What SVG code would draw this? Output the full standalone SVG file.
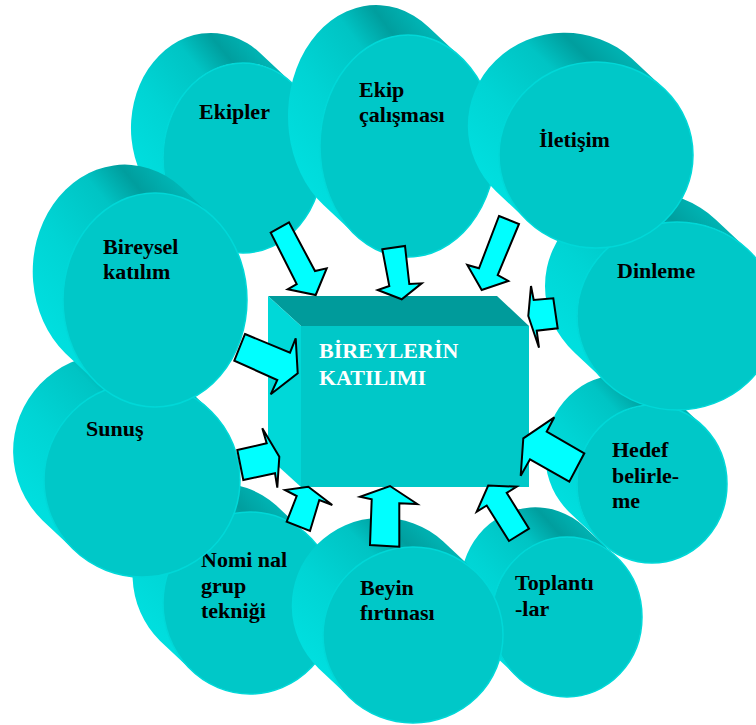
<svg xmlns="http://www.w3.org/2000/svg" width="756" height="725" viewBox="0 0 756 725">
<defs>
<linearGradient id="side" x1="0" y1="1" x2="1" y2="0">
<stop offset="0" stop-color="#00E6E6"/>
<stop offset="0.4" stop-color="#00D4D4"/>
<stop offset="0.62" stop-color="#00C4C4"/>
<stop offset="0.74" stop-color="#009E9E"/>
<stop offset="0.87" stop-color="#00B8B8"/>
<stop offset="1" stop-color="#00C6C6"/>
</linearGradient>
</defs>
<style>
.side{fill:url(#side);stroke:none}
.face{fill:#00C8C8;stroke:#00D8D8;stroke-width:1.5}
.lbl{font-family:"Liberation Serif","Times New Roman",serif;font-weight:bold;font-size:22px;fill:#000}
.ttl{font-family:"Liberation Serif","Times New Roman",serif;font-weight:bold;font-size:22px;fill:#FFFFFF}
.arr{fill:#00FFFF;stroke:#000;stroke-width:2;stroke-linejoin:miter}
</style>
<rect width="756" height="725" fill="#FFFFFF"/>

<g id="toplantilar">
<path class="side" d="M616.5,556.9 L584.5,526.9 A75,80 0 0 0 485.5,647.1 L517.5,677.1 A75,80 0 0 1 616.5,556.9 Z"/>
<ellipse class="face" cx="567" cy="617" rx="75" ry="80"/>
<text class="lbl" x="515" y="590">Toplantı</text>
<text class="lbl" x="515" y="616">-lar</text>
</g>

<g id="hedef">
<path class="side" d="M701.9,425 L669.9,395 A75,79 0 0 0 570.1,513 L602.1,543 A75,79 0 0 1 701.9,425 Z"/>
<ellipse class="face" cx="652" cy="484" rx="75" ry="79"/>
<text class="lbl" x="612" y="457">Hedef</text>
<text class="lbl" x="612" y="483">belirle-</text>
<text class="lbl" x="612" y="508">me</text>
</g>

<g id="dinleme">
<path class="side" d="M747.6,249.4 L715.6,219.4 A100,94 0 0 0 574.4,352.6 L606.4,382.6 A100,94 0 0 1 747.6,249.4 Z"/>
<ellipse class="face" cx="677" cy="316" rx="100" ry="94"/>
<text class="lbl" x="617" y="278">Dinleme</text>
</g>

<g id="nominal">
<path class="side" d="M308.1,535.3 L276.1,505.3 A87,91 0 0 0 159.9,640.7 L191.9,670.7 A87,91 0 0 1 308.1,535.3 Z"/>
<ellipse class="face" cx="250" cy="603" rx="87" ry="91"/>
<text class="lbl" x="201" y="567">Nomi nal</text>
<text class="lbl" x="201" y="593">grup</text>
<text class="lbl" x="201" y="618">tekniği</text>
</g>

<g id="beyin">
<path class="side" d="M475.3,571.5 L443.3,541.5 A90,88 0 0 0 318.7,668.5 L350.7,698.5 A90,88 0 0 1 475.3,571.5 Z"/>
<ellipse class="face" cx="413" cy="635" rx="90" ry="88"/>
<text class="lbl" x="360" y="595">Beyin</text>
<text class="lbl" x="360" y="620">fırtınası</text>
</g>

<g id="sunus">
<path class="side" d="M209.4,409.6 L177.4,379.6 A98,97 0 0 0 42.6,520.4 L74.6,550.4 A98,97 0 0 1 209.4,409.6 Z"/>
<ellipse class="face" cx="142" cy="480" rx="98" ry="97"/>
<text class="lbl" x="86" y="436">Sunuş</text>
</g>

<g id="ekipler">
<path class="side" d="M292.6,83.4 L260.6,53.4 A80,95 0 0 0 161.4,202.6 L193.4,232.6 A80,95 0 0 1 292.6,83.4 Z"/>
<ellipse class="face" cx="243" cy="158" rx="80" ry="95"/>
<text class="lbl" x="199" y="119">Ekipler</text>
</g>

<g id="bireysel">
<path class="side" d="M212.7,216.7 L180.7,186.7 A92,107 0 0 0 65.3,353.3 L97.3,383.3 A92,107 0 0 1 212.7,216.7 Z"/>
<ellipse class="face" cx="155" cy="300" rx="92" ry="107"/>
<text class="lbl" x="103" y="254">Bireysel</text>
<text class="lbl" x="103" y="279">katılım</text>
</g>

<g id="ekip-calismasi">
<path class="side" d="M460.5,56.9 L428.5,26.9 A88,111 0 0 0 323.5,205.1 L355.5,235.1 A88,111 0 0 1 460.5,56.9 Z"/>
<ellipse class="face" cx="408" cy="146" rx="88" ry="111"/>
<text class="lbl" x="359" y="97">Ekip</text>
<text class="lbl" x="359" y="122">çalışması</text>
</g>

<g id="iletisim">
<path class="side" d="M663.8,88.5 L631.8,58.5 A97,93 0 0 0 496.2,191.5 L528.2,221.5 A97,93 0 0 1 663.8,88.5 Z"/>
<ellipse class="face" cx="596" cy="155" rx="97" ry="93"/>
<text class="lbl" x="539" y="147">İletişim</text>
</g>

<g id="bireylerin-katilimi">
<polygon points="268,296 497,296 529,326 301,326" fill="#009B9B"/>
<polygon points="268,296 301,326 301,487 268,457" fill="#00D8D8"/>
<rect x="301" y="326" width="228" height="161" fill="#00C8C8"/>
<text class="ttl" x="319" y="358">BİREYLERİN</text>
<text class="ttl" x="319" y="385">KATILIMI</text>
</g>

<g id="connectors">
<polygon class="arr" points="270.7,232.7 289,222.3 315,271 326.7,268.3 315.7,295 287.7,289.3 296.7,284"/>
<polygon class="arr" points="382.3,249.3 405,246 409.3,284 421.7,283.3 401.7,299.3 377.7,290 389.3,286"/>
<polygon class="arr" points="499,216 519,224 497.7,275 508.3,281 481.7,290 467.3,265 479,268.3"/>
<polygon class="arr" points="531,286 533.7,300 553.3,298.3 557.7,328.3 536.7,330.7 539,347.7 528.3,316"/>
<polygon class="arr" points="523.3,438.3 554.3,417.3 546.7,431.7 584.3,453.3 569.3,481.7 530,459.3 520.7,475.7"/>
<polygon class="arr" points="237.3,450 266.7,443.3 262.3,428.3 279.3,456.7 277.3,487.7 275,473.3 243.3,480"/>
<polygon class="arr" points="245,334 290,352.7 295.7,338.3 297.7,373.3 270.7,394.3 277.3,380 234.3,360.7"/>
<polygon class="arr" points="286.7,521.7 296.7,496 285,490 308.3,486.7 332.3,505 319.3,500 310,531"/>
<polygon class="arr" points="370,545 371.7,499.3 360,496.7 390,486 417.3,504 399.3,503.3 399.3,546.7"/>
<polygon class="arr" points="509,541 486.7,505.5 476.7,511.7 488.2,485.6 516.7,486.7 506.7,492.9 529,528.6"/>
</g>
</svg>
